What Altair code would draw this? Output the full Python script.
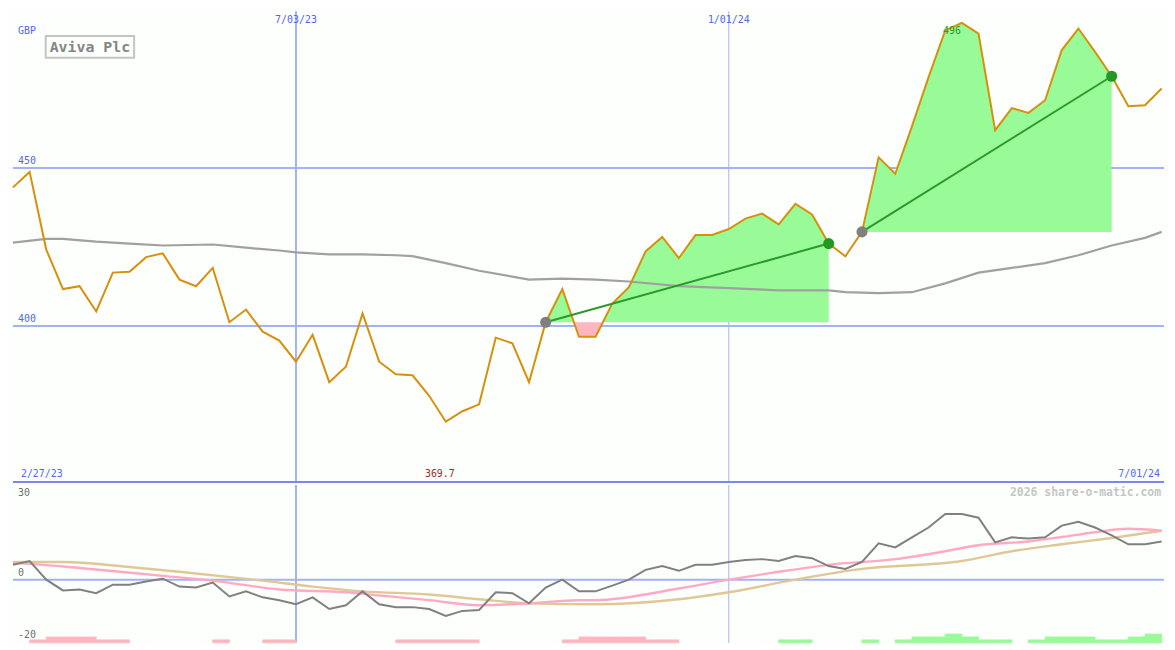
import altair as alt
import pandas as pd

# ---------------- data (weekly closes, GBP) ----------------
START = "2023-03-06"
price = [443.9, 448.8, 424.2, 411.7, 412.6, 404.6, 416.9, 417.2, 421.8, 423.0,
         414.7, 412.6, 418.4, 401.2, 405.2, 398.2, 395.4, 388.7, 397.2, 382.2,
         387.1, 404.0, 388.7, 384.7, 384.4, 377.9, 369.7, 373.0, 375.2, 396.3,
         394.5, 382.2, 401.2, 411.7, 396.6, 396.6, 407.1, 412.3, 423.6, 428.2,
         421.5, 428.8, 428.8, 430.7, 434.0, 435.6, 432.2, 438.7, 435.3, 426.1,
         422.1, 429.8, 453.4, 448.2, 463.2, 478.8, 493.6, 496.0, 492.6, 462.0,
         469.0, 467.5, 471.5, 487.4, 494.2, 486.8, 479.1, 469.6, 469.9, 475.2]

ma_idx = [0, 2, 3, 5, 7, 9, 12, 14, 16, 17, 19, 21, 23, 24, 26, 28, 31, 33, 35, 37,
          40, 43, 46, 49, 50, 52, 54, 56, 58, 60, 62, 64, 66, 68, 69]
ma_val = [426.4, 427.6, 427.6, 426.7, 426.1, 425.5, 425.8, 424.8, 423.9, 423.3,
          422.7, 422.7, 422.4, 422.1, 419.9, 417.5, 414.7, 415.0, 414.7, 414.1,
          412.6, 412.0, 411.3, 411.3, 410.7, 410.4, 410.7, 413.5, 416.9, 418.4,
          419.9, 422.4, 425.5, 427.9, 429.8]

osc_val = [4.7, 5.9, 0.0, -3.4, -3.1, -4.3, -1.6, -1.6, -0.6, 0.3,
           -2.2, -2.5, -0.9, -5.3, -3.7, -5.6, -6.5, -7.8, -5.6, -9.3,
           -8.1, -3.7, -7.8, -8.7, -8.7, -9.3, -11.5, -9.9, -9.6, -4.0,
           -4.3, -7.5, -2.5, 0.0, -3.7, -3.7, -1.9, 0.0, 3.1, 4.3,
           2.8, 4.7, 4.7, 5.6, 6.2, 6.5, 5.9, 7.5, 6.8, 4.3,
           3.4, 5.6, 11.5, 10.2, 13.4, 16.5, 20.8, 20.8, 19.6, 11.8,
           13.4, 13.0, 13.4, 17.1, 18.3, 16.5, 14.0, 11.2, 11.2, 12.1]

sig_idx = [0, 1, 4, 9, 12, 16, 20, 22, 25, 28, 31, 34, 35, 40, 43, 46, 49, 53, 56,
           58, 61, 63, 65, 67, 69]
sig_val = [5.3, 5.0, 3.7, 1.2, -0.3, -3.1, -4.0, -5.0, -6.5, -8.1, -7.5, -6.5, -6.5,
           -2.8, 0.0, 2.5, 4.7, 6.5, 9.0, 10.9, 12.1, 13.5, 15.0, 16.1, 15.5]

slow_idx = [0, 3, 7, 10, 15, 18, 21, 25, 28, 31, 35, 40, 43, 47, 51, 57, 60, 63, 66, 69]
slow_val = [5.6, 5.6, 4.0, 2.5, -0.3, -2.2, -3.7, -4.7, -6.2, -7.5, -7.8, -6.2, -4.0,
            0.0, 3.4, 5.9, 9.0, 11.2, 13.2, 15.5]

hist_idx = [1, 2, 3, 4, 5, 6, 12, 15, 16, 23, 24, 25, 26, 27, 33, 34, 35, 36, 37, 38, 39,
            46, 47, 51, 53, 54, 55, 56, 57, 58, 59, 61, 62, 63, 64, 65, 66, 67, 68]
hist_val = [-1, -2, -2, -2, -1, -1, -1, -1, -1, -1, -1, -1, -1, -1, -1, -2, -2, -2, -2, -1, -1,
            1, 1, 1, 1, 2, 2, 3, 2, 1, 1, 1, 2, 2, 2, 1, 1, 2, 3]

entries = [32, 51]
exits = [49, 66]

price_grid = [400, 450]
date_grid = ["2023-07-03", "2024-01-01"]
date_grid_w = [2, 1]
date_grid_lbl = ["7/03/23", "1/01/24"]
range_lbl = ["2/27/23", "7/01/24"]
title = "Aviva Plc"
currency = "GBP"
watermark = "2026 share-o-matic.com"

# ---------------- helpers ----------------
W, H1, H2 = 1159, 475, 159
FONT = "DejaVu Sans Mono"
BG = "#fcfffc"
GRID = "#a4b2f2"
AXIS = "#7a88ee"
LBL = "#5566ee"
GOLD = "#d8900c"
GREEN_F = "#98fb98"
PINK_F = "#ffb6c1"
TRADE = "#2a9a2a"

t0 = pd.Timestamp(START)


def wk(i):
    return t0 + pd.Timedelta(days=7 * i)


xs = alt.Scale(domain=[alt.DateTime(year=2023, month=3, date=6),
                       alt.DateTime(year=2024, month=7, date=2)])
ys = alt.Scale(domain=[350.3, 499.7], nice=False, zero=False)
os_ = alt.Scale(domain=[-20, 30], nice=False, zero=False)
hs = alt.Scale(domain=[0, 54], nice=False, zero=False)


def X(f="d"):
    return alt.X(f"{f}:T", scale=xs, axis=None)


df_price = pd.DataFrame({"d": [wk(i) for i in range(len(price))], "p": price})
df_ma = pd.DataFrame({"d": [wk(i) for i in ma_idx], "p": ma_val})

# trade fills (split at crossings of the entry level)
rows = []
for t, (a, b) in enumerate(zip(entries, exits)):
    base = price[a]
    pts = []
    for i in range(a, b):
        pts.append((i, price[i]))
        p0, p1 = price[i], price[i + 1]
        if (p0 - base) * (p1 - base) < 0:
            f = (base - p0) / (p1 - p0)
            pts.append((i + f, base))
    pts.append((b, price[b]))
    for i, p in pts:
        rows.append({"trade": t, "d": wk(i), "base": base,
                     "hi": max(p, base), "lo": min(p, base)})
df_fill = pd.DataFrame(rows)

df_tl = pd.DataFrame(
    [{"trade": t, "d": wk(i), "p": price[i]} for t, (a, b) in enumerate(zip(entries, exits)) for i in (a, b)])
df_entry = pd.DataFrame({"d": [wk(i) for i in entries], "p": [price[i] for i in entries]})
df_exit = pd.DataFrame({"d": [wk(i) for i in exits], "p": [price[i] for i in exits]})

imax = price.index(max(price))
imin = price.index(min(price))

# ---------------- top panel ----------------
grid_h = alt.Chart(pd.DataFrame({"p": price_grid})).mark_rule(
    color=GRID, strokeWidth=2).encode(y=alt.Y("p:Q", scale=ys, axis=None))
grid_v = alt.Chart(pd.DataFrame({"d": pd.to_datetime(date_grid), "w": date_grid_w})).mark_rule(
    color=GRID).encode(x=X(), strokeWidth=alt.StrokeWidth("w:Q", scale=None, legend=None))
axis_line = alt.Chart(pd.DataFrame({"p": [350.6]})).mark_rule(
    color=AXIS, strokeWidth=2).encode(y=alt.Y("p:Q", scale=ys, axis=None))

fill_g = alt.Chart(df_fill).mark_area(color=GREEN_F, opacity=1).encode(
    x=X(), y=alt.Y("hi:Q", scale=ys, axis=None), y2="base:Q", detail="trade:N")
fill_p = alt.Chart(df_fill).mark_area(color=PINK_F, opacity=1).encode(
    x=X(), y=alt.Y("lo:Q", scale=ys, axis=None), y2="base:Q", detail="trade:N")

ma_line = alt.Chart(df_ma).mark_line(color="#a0a0a0", strokeWidth=2.2).encode(
    x=X(), y=alt.Y("p:Q", scale=ys, axis=None))
price_line = alt.Chart(df_price).mark_line(color=GOLD, strokeWidth=2).encode(
    x=X(), y=alt.Y("p:Q", scale=ys, axis=None))
trade_line = alt.Chart(df_tl).mark_line(color=TRADE, strokeWidth=2).encode(
    x=X(), y=alt.Y("p:Q", scale=ys, axis=None), detail="trade:N")
dot_in = alt.Chart(df_entry).mark_circle(color="#808080", size=125, opacity=1).encode(
    x=X(), y=alt.Y("p:Q", scale=ys, axis=None))
dot_out = alt.Chart(df_exit).mark_circle(color="#229a22", size=125, opacity=1).encode(
    x=X(), y=alt.Y("p:Q", scale=ys, axis=None))

txt = dict(font=FONT, fontSize=10)
ylab = alt.Chart(pd.DataFrame({"p": price_grid, "t": [str(v) for v in price_grid]})).mark_text(
    align="left", baseline="bottom", dx=0, dy=-2, color=LBL, **txt).encode(
    x=alt.value(5), y=alt.Y("p:Q", scale=ys, axis=None), text="t:N")
gbp = alt.Chart(pd.DataFrame({"t": [currency]})).mark_text(
    align="left", baseline="middle", color=LBL, **txt).encode(
    x=alt.value(5), y=alt.value(20), text="t:N")
dlab = alt.Chart(pd.DataFrame({"d": pd.to_datetime(date_grid), "t": date_grid_lbl})).mark_text(
    align="center", baseline="middle", color=LBL, **txt).encode(
    x=X(), y=alt.value(9), text="t:N")
rlab_l = alt.Chart(pd.DataFrame({"t": [range_lbl[0]]})).mark_text(
    align="left", baseline="middle", color=LBL, **txt).encode(
    x=alt.value(8), y=alt.value(H1 - 9), text="t:N")
rlab_r = alt.Chart(pd.DataFrame({"t": [range_lbl[1]]})).mark_text(
    align="right", baseline="middle", color=LBL, **txt).encode(
    x=alt.value(W - 4), y=alt.value(H1 - 9), text="t:N")
minlab = alt.Chart(pd.DataFrame({"d": [wk(imin)], "t": [f"{min(price):.1f}"]})).mark_text(
    align="center", baseline="middle", dx=-6, color="#a02828", **txt).encode(
    x=X(), y=alt.value(H1 - 9), text="t:N")
maxlab = alt.Chart(pd.DataFrame({"d": [wk(imax)], "p": [max(price)], "t": [f"{max(price):.0f}"]})).mark_text(
    align="right", baseline="top", dx=-1, dy=3, color=TRADE, **txt).encode(
    x=X(), y=alt.Y("p:Q", scale=ys, axis=None), text="t:N")

box = alt.Chart(pd.DataFrame({"t": [title]})).mark_rect(
    fill="#fdfffd", stroke="#c4c4c4", strokeWidth=2).encode(
    x=alt.value(33), x2=alt.value(122), y=alt.value(25), y2=alt.value(47))
box_t = alt.Chart(pd.DataFrame({"t": [title]})).mark_text(
    align="center", baseline="middle", font=FONT, fontSize=15, fontWeight="bold",
    color="#858585").encode(
    x=alt.value(77.5), y=alt.value(36.5), text="t:N")

top = alt.layer(grid_v, grid_h, fill_g, fill_p, ma_line, price_line, trade_line,
                dot_in, dot_out, axis_line, ylab, gbp, dlab, rlab_l, rlab_r, minlab,
                maxlab, box, box_t).properties(width=W, height=H1)

# ---------------- bottom panel ----------------
df_osc = pd.DataFrame({"d": [wk(i) for i in range(len(osc_val))], "v": osc_val})
df_sig = pd.DataFrame({"d": [wk(i) for i in sig_idx], "v": sig_val})
df_slow = pd.DataFrame({"d": [wk(i) for i in slow_idx], "v": slow_val})
df_hist = pd.DataFrame({"d": [wk(i) for i in hist_idx], "d2": [wk(i + 1) for i in hist_idx],
                        "h": [abs(v) for v in hist_val],
                        "s": ["pos" if v > 0 else "neg" for v in hist_val]})

zero = alt.Chart(pd.DataFrame({"v": [0]})).mark_rule(color=GRID, strokeWidth=2).encode(
    y=alt.Y("v:Q", scale=os_, axis=None))
grid_v2 = alt.Chart(pd.DataFrame({"d": pd.to_datetime(date_grid), "w": date_grid_w})).mark_rule(
    color=GRID).encode(x=X(), strokeWidth=alt.StrokeWidth("w:Q", scale=None, legend=None))
hscale = alt.Scale(domain=["neg", "pos"], range=[PINK_F, GREEN_F])
hist = alt.Chart(df_hist).mark_rect(strokeWidth=0.8).encode(
    x=X(), x2="d2:T", y=alt.Y("h:Q", scale=hs, axis=None), y2=alt.datum(0),
    color=alt.Color("s:N", scale=hscale, legend=None),
    stroke=alt.Stroke("s:N", scale=hscale, legend=None))
slow_l = alt.Chart(df_slow).mark_line(color="#e0c896", strokeWidth=2.4, interpolate="monotone").encode(
    x=X(), y=alt.Y("v:Q", scale=os_, axis=None))
sig_l = alt.Chart(df_sig).mark_line(color="#ffaac4", strokeWidth=2.4, interpolate="monotone").encode(
    x=X(), y=alt.Y("v:Q", scale=os_, axis=None))
osc_l = alt.Chart(df_osc).mark_line(color="#808080", strokeWidth=2).encode(
    x=X(), y=alt.Y("v:Q", scale=os_, axis=None))

l30 = alt.Chart(pd.DataFrame({"t": ["30"]})).mark_text(
    align="left", baseline="middle", color="#707070", **txt).encode(
    x=alt.value(5), y=alt.value(8), text="t:N")
l0 = alt.Chart(pd.DataFrame({"v": [0], "t": ["0"]})).mark_text(
    align="left", baseline="bottom", dy=-2, color="#707070", **txt).encode(
    x=alt.value(5), y=alt.Y("v:Q", scale=os_, axis=None), text="t:N")
l20 = alt.Chart(pd.DataFrame({"t": ["-20"]})).mark_text(
    align="left", baseline="middle", color="#707070", **txt).encode(
    x=alt.value(5), y=alt.value(H2 - 8), text="t:N")
wm = alt.Chart(pd.DataFrame({"t": [watermark]})).mark_text(
    align="right", baseline="middle", font=FONT, fontSize=11.5, fontWeight="bold",
    color="#c6c6c6").encode(x=alt.value(W - 3), y=alt.value(8), text="t:N")

bottom = alt.layer(grid_v2, zero, hist, slow_l, sig_l, osc_l, l30, l0, l20, wm).resolve_scale(
    y="independent").properties(width=W, height=H2)

chart = alt.vconcat(top, bottom, spacing=0).properties(
    padding=0, background=BG).configure_view(stroke=None).configure_concat(spacing=0)

chart.save("out.html", embed_options={"renderer": "svg", "actions": False})
